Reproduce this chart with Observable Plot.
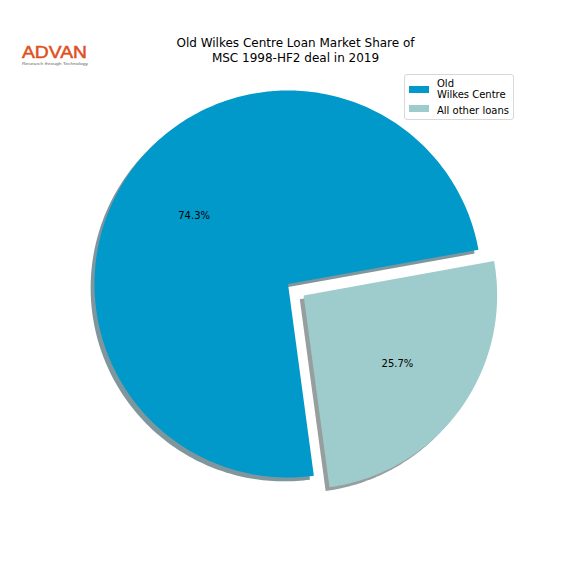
<!DOCTYPE html>
<html>
<head>
<meta charset="utf-8">
<script src="https://cdn.jsdelivr.net/npm/d3@7"></script>
<script src="https://cdn.jsdelivr.net/npm/@observablehq/plot@0.6"></script>
<style>
  html, body { margin: 0; padding: 0; background: #fff; }
  #wrap { position: relative; width: 576px; height: 576px; overflow: hidden; font-family: "DejaVu Sans", sans-serif; }
  #chart { position: absolute; left: 0; top: 0; }
  #title { position: absolute; left: 145px; width: 301px; top: 36px; text-align: center; font-size: 12px; line-height: 15px; color: #000; }
  #legend { position: absolute; left: 404px; top: 74px; width: 108px; height: 44px; border: 1px solid #d8d8d8; border-radius: 3px; background: rgba(255,255,255,0.8); font-size: 10px; color: #000; }
  .sw { position: absolute; left: 4px; width: 20px; height: 7px; }
  .lt { position: absolute; left: 32px; line-height: 11.5px; white-space: pre; }
  #logo { position: absolute; left: 20px; top: 40px; }
</style>
</head>
<body>
<div id="wrap">
  <div id="chart"></div>
  <svg id="logo" width="75" height="30">
    <text x="2" y="17.5" font-family="Liberation Sans, Arial, sans-serif" font-size="17" fill="#E0501C" textLength="65" lengthAdjust="spacingAndGlyphs" stroke="#E0501C" stroke-width="0.5">ADVAN</text>
    <text x="2" y="24.5" font-family="Liberation Sans, Arial, sans-serif" font-size="4.3" fill="#666" textLength="66" lengthAdjust="spacingAndGlyphs">Research through Technology</text>
  </svg>
  <div id="title">Old Wilkes Centre Loan Market Share of<br>MSC 1998-HF2 deal in 2019</div>
  <div id="legend"></div>
</div>
<script>
// ---- data ----
const labels = ["Old\nWilkes Centre", "All other loans"];
const shares = [74.3, 25.7];
const colors = ["#0099C9", "#9ECCCC"];
const explode = [0, 0.1];

// ---- layout constants ----
const W = 576, H = 576;
const R = 193.5, CX = 287.5, CY = 283.5;   // pixel centre / radius
const startAngle = 10.2;                   // degrees, counter-clockwise
const pctDistance = 0.6;
const shadowOffset = -0.02;

// build slice polygons in data units (radius = 1)
const total = d3.sum(shares);
const polys = [], shadows = [], pcts = [];
let a0 = startAngle;
shares.forEach((v, i) => {
  const span = v / total * 360;
  const a1 = a0 + span;
  const mid = (a0 + a1) / 2 * Math.PI / 180;
  const ox = explode[i] * Math.cos(mid), oy = explode[i] * Math.sin(mid);
  const pts = [[ox, oy]];
  const n = Math.max(2, Math.ceil(span));
  for (let k = 0; k <= n; k++) {
    const a = (a0 + span * k / n) * Math.PI / 180;
    pts.push([ox + Math.cos(a), oy + Math.sin(a)]);
  }
  pts.forEach(([x, y], j) => {
    polys.push({key: labels[i], x, y, j});
    shadows.push({key: labels[i], x: x + shadowOffset, y: y + shadowOffset, j});
  });
  pcts.push({x: ox + pctDistance * Math.cos(mid), y: oy + pctDistance * Math.sin(mid), text: v.toFixed(1) + "%"});
  a0 = a1;
});

const shadowColor = c => {
  const r = d3.rgb(c);
  return d3.rgb(r.r * 0.3, r.g * 0.3, r.b * 0.3).formatHex();
};

const plot = Plot.plot({
  width: W, height: H,
  marginTop: 0, marginBottom: 0, marginLeft: 0, marginRight: 0,
  x: {domain: [-CX / R, (W - CX) / R], axis: null},
  y: {domain: [-(H - CY) / R, CY / R], axis: null},
  color: {domain: labels, range: colors},
  style: {background: "white", fontFamily: "DejaVu Sans, sans-serif"},
  marks: [
    Plot.line(shadows, {x: "x", y: "y", z: "key", curve: "linear-closed",
      fill: d => shadowColor(colors[labels.indexOf(d.key)]), fillOpacity: 0.5, stroke: "none"}),
    Plot.line(polys, {x: "x", y: "y", z: "key", curve: "linear-closed",
      fill: "key", stroke: "none"}),
    Plot.text(pcts, {x: "x", y: "y", text: "text", fontSize: 10, fill: "black"})
  ]
});
document.getElementById("chart").appendChild(plot);

// legend
const lg = document.getElementById("legend");
const swTop = [11, 30], txtTop = [2.5, 29.5];
labels.forEach((l, i) => {
  const s = document.createElement("div");
  s.className = "sw"; s.style.top = swTop[i] + "px"; s.style.background = colors[i];
  lg.appendChild(s);
  const t = document.createElement("div");
  t.className = "lt"; t.style.top = txtTop[i] + "px"; t.textContent = l;
  lg.appendChild(t);
});
</script>
</body>
</html>
